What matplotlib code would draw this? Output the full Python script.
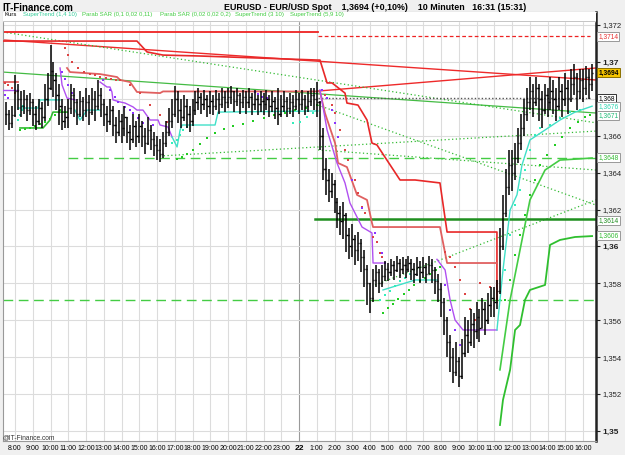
import matplotlib.pyplot as plt
import numpy as np

plt.rcParams['font.family'] = ['Liberation Sans', 'DejaVu Sans']

# ---- price bars (10 min), first bar at 7:30, time in hours after 8:00 ----
bar_start = -0.5
close = [
    1.3672, 1.3667, 1.3671,                                   # 7:30
    1.3684, 1.3680, 1.3676, 1.3680, 1.3674, 1.3678,           # 8:00
    1.3672, 1.3668, 1.3675, 1.3670, 1.3680, 1.3686,           # 9:00
    1.3695, 1.3690, 1.3682, 1.3676, 1.3668, 1.3670,           # 10:00
    1.3675, 1.3682, 1.3678, 1.3672, 1.3679, 1.3674,           # 11:00
    1.3678, 1.3673, 1.3680, 1.3676, 1.3682, 1.3677,           # 12:00
    1.3672, 1.3668, 1.3674, 1.3666, 1.3662, 1.3668,           # 13:00
    1.3664, 1.3670, 1.3662, 1.3658, 1.3665, 1.3660,           # 14:00
    1.3665, 1.3660, 1.3656, 1.3663, 1.3658, 1.3655,           # 15:00
    1.3652, 1.3650, 1.3656, 1.3662, 1.3668, 1.3672,           # 16:00
    1.3680, 1.3674, 1.3670, 1.3676, 1.3672, 1.3668,           # 17:00
    1.3674, 1.3678, 1.3681, 1.3677, 1.3680, 1.3676,           # 18:00
    1.3679, 1.3676, 1.3680, 1.3677, 1.3681, 1.3678,           # 19:00
    1.3681, 1.3684, 1.3679, 1.3682, 1.3678, 1.3681,           # 20:00
    1.3678, 1.3681, 1.3677, 1.3680, 1.3677, 1.3679,           # 21:00
    1.3677, 1.3680, 1.3676, 1.3679, 1.3675, 1.3672,           # 22:00
    1.3676, 1.3679, 1.3675, 1.3678, 1.3676, 1.3680,           # 23:00
    1.3677, 1.3680, 1.3676, 1.3679, 1.3682, 1.3680,           # 0:00
    1.3678, 1.3660, 1.3642, 1.3636, 1.3630, 1.3634,           # 1:00
    1.3624, 1.3618, 1.3614, 1.3617, 1.3606, 1.3600,           # 2:00
    1.3604, 1.3598, 1.3602, 1.3594, 1.3588, 1.3580,           # 3:00
    1.3572, 1.3582, 1.3586, 1.3580, 1.3584, 1.3588,           # 4:00
    1.3586, 1.3590, 1.3587, 1.3591, 1.3588, 1.3590,           # 5:00
    1.3588, 1.3591, 1.3588, 1.3585, 1.3589, 1.3586,           # 6:00
    1.3589, 1.3585, 1.3590, 1.3587, 1.3581, 1.3577,           # 7:00
    1.3570, 1.3560, 1.3548, 1.3540, 1.3532, 1.3538,           # 8:00
    1.3530, 1.3542, 1.3552, 1.3548, 1.3558, 1.3554,           # 9:00
    1.3562, 1.3556, 1.3566, 1.3560, 1.3568, 1.3572,           # 10:00
    1.3570, 1.3576, 1.3600, 1.3618, 1.3632, 1.3644,           # 11:00
    1.3640, 1.3648, 1.3656, 1.3664, 1.3672, 1.3678,           # 12:00
    1.3684, 1.3678, 1.3686, 1.3680, 1.3674, 1.3682,           # 13:00
    1.3678, 1.3684, 1.3680, 1.3676, 1.3684, 1.3680,           # 14:00
    1.3686, 1.3680, 1.3688, 1.3692, 1.3684, 1.3690,           # 15:00
    1.3686, 1.3692, 1.3688, 1.3694,                           # 16:00
]
high = [
    1.3678, 1.3674, 1.3676,
    1.3693, 1.3688, 1.3684, 1.3685, 1.3682, 1.3683,
    1.3680, 1.3676, 1.3680, 1.3678, 1.3688, 1.3694,
    1.3709, 1.3700, 1.3694, 1.3688, 1.3680, 1.3676,
    1.3680, 1.3688, 1.3686, 1.3680, 1.3684, 1.3681,
    1.3686, 1.3682, 1.3686, 1.3684, 1.3690, 1.3686,
    1.3680, 1.3676, 1.3680, 1.3676, 1.3670, 1.3674,
    1.3672, 1.3676, 1.3670, 1.3666, 1.3672, 1.3668,
    1.3672, 1.3668, 1.3664, 1.3670, 1.3666, 1.3662,
    1.3660, 1.3658, 1.3662, 1.3668, 1.3675, 1.3680,
    1.3687, 1.3684, 1.3680, 1.3682, 1.3680, 1.3676,
    1.3680, 1.3684, 1.3686, 1.3683, 1.3685, 1.3682,
    1.3684, 1.3682, 1.3685, 1.3683, 1.3686, 1.3684,
    1.3686, 1.3687, 1.3684, 1.3686, 1.3683, 1.3685,
    1.3684, 1.3686, 1.3683, 1.3685, 1.3682, 1.3684,
    1.3683, 1.3685, 1.3682, 1.3684, 1.3681, 1.3686,
    1.3682, 1.3684, 1.3681, 1.3683, 1.3682, 1.3685,
    1.3683, 1.3685, 1.3682, 1.3684, 1.3686, 1.3686,
    1.3689, 1.3679, 1.3664, 1.3648, 1.3642, 1.3640,
    1.3636, 1.3626, 1.3622, 1.3624, 1.3618, 1.3610,
    1.3612, 1.3606, 1.3608, 1.3604, 1.3598, 1.3590,
    1.3580, 1.3588, 1.3590, 1.3588, 1.3590, 1.3592,
    1.3591, 1.3593, 1.3592, 1.3595, 1.3593, 1.3594,
    1.3593, 1.3595, 1.3593, 1.3591, 1.3594, 1.3592,
    1.3594, 1.3591, 1.3595, 1.3593, 1.3589, 1.3585,
    1.3580, 1.3572, 1.3562, 1.3552, 1.3545, 1.3548,
    1.3540, 1.3550, 1.3562, 1.3560, 1.3566, 1.3564,
    1.3570, 1.3566, 1.3572, 1.3570, 1.3575, 1.3578,
    1.3578, 1.3582, 1.3610, 1.3628, 1.3642, 1.3652,
    1.3652, 1.3656, 1.3664, 1.3672, 1.3680, 1.3686,
    1.3692, 1.3688, 1.3692, 1.3688, 1.3684, 1.3688,
    1.3686, 1.3692, 1.3690, 1.3686, 1.3692, 1.3688,
    1.3694, 1.3690, 1.3696, 1.3699, 1.3694, 1.3696,
    1.3696, 1.3698, 1.3696, 1.3699,
]
low = [
    1.3666, 1.3663, 1.3664,
    1.3670, 1.3674, 1.3670, 1.3672, 1.3668, 1.3671,
    1.3665, 1.3663, 1.3666, 1.3664, 1.3668, 1.3676,
    1.3685, 1.3681, 1.3674, 1.3666, 1.3663, 1.3664,
    1.3664, 1.3672, 1.3670, 1.3666, 1.3670, 1.3668,
    1.3670, 1.3666, 1.3671, 1.3668, 1.3674, 1.3670,
    1.3665, 1.3662, 1.3666, 1.3660, 1.3656, 1.3660,
    1.3656, 1.3660, 1.3656, 1.3652, 1.3656, 1.3654,
    1.3656, 1.3654, 1.3650, 1.3655, 1.3652, 1.3649,
    1.3647, 1.3646, 1.3648, 1.3654, 1.3660, 1.3664,
    1.3670, 1.3667, 1.3664, 1.3668, 1.3664, 1.3662,
    1.3665, 1.3671, 1.3674, 1.3672, 1.3674, 1.3670,
    1.3672, 1.3671, 1.3674, 1.3672, 1.3675, 1.3673,
    1.3675, 1.3677, 1.3673, 1.3676, 1.3672, 1.3675,
    1.3672, 1.3675, 1.3671, 1.3674, 1.3671, 1.3673,
    1.3671, 1.3674, 1.3670, 1.3673, 1.3669, 1.3666,
    1.3670, 1.3673, 1.3670, 1.3672, 1.3670, 1.3674,
    1.3672, 1.3674, 1.3671, 1.3673, 1.3676, 1.3674,
    1.3670, 1.3652, 1.3636, 1.3628, 1.3624, 1.3626,
    1.3618, 1.3610, 1.3606, 1.3604, 1.3597, 1.3593,
    1.3594, 1.3590, 1.3592, 1.3586, 1.3578, 1.3568,
    1.3564, 1.3570, 1.3578, 1.3575, 1.3578, 1.3581,
    1.3581, 1.3584, 1.3582, 1.3586, 1.3583, 1.3585,
    1.3583, 1.3586, 1.3582, 1.3580, 1.3584, 1.3580,
    1.3583, 1.3580, 1.3585, 1.3580, 1.3574, 1.3570,
    1.3562, 1.3552, 1.3540, 1.3532, 1.3526, 1.3530,
    1.3524, 1.3528, 1.3540, 1.3542, 1.3546, 1.3545,
    1.3550, 1.3548, 1.3556, 1.3552, 1.3558, 1.3562,
    1.3562, 1.3566, 1.3574, 1.3598, 1.3616, 1.3628,
    1.3630, 1.3636, 1.3645, 1.3652, 1.3660, 1.3668,
    1.3674, 1.3670, 1.3676, 1.3668, 1.3664, 1.3672,
    1.3670, 1.3674, 1.3672, 1.3668, 1.3674, 1.3670,
    1.3676, 1.3672, 1.3678, 1.3682, 1.3674, 1.3680,
    1.3678, 1.3682, 1.3680, 1.3684,
]

# ---- SuperTrend (5,9 10): vertices (hour, price) ----
st59_dn_t = [-0.68, 6.87, 7.44, 8.34, 10.42, 17.07, 17.18, 17.58, 17.86, 18.59, 18.70, 19.32, 19.83,
             20.11, 20.39, 21.69, 22.54, 23.94, 24.34, 27.15, 27.15]
st59_dn_p = [1.37113, 1.37113, 1.37054, 1.37037, 1.37032, 1.3701, 1.3701, 1.36886, 1.36886, 1.36831,
             1.36777, 1.36766, 1.36685, 1.3656, 1.3655, 1.3636, 1.3636, 1.36344, 1.36078, 1.36078, 1.3571]
st59_up_t = [27.32, 27.49, 27.89, 28.17, 28.45, 28.73, 29.01, 29.86, 30.14, 30.70, 31.55, 32.51]
st59_up_p = [1.35032, 1.35168, 1.35331, 1.35547, 1.35574, 1.3571, 1.35764, 1.35791, 1.36008, 1.36035,
             1.36051, 1.36056]

# ---- SuperTrend (3 10) ----
st3_dn1_t = [-0.68, 0.17]
st3_dn1_p = [1.36891, 1.36891]
st3_up1_t = [0.28, 1.58, 1.97, 2.14, 2.93]
st3_up1_p = [1.36642, 1.36642, 1.36685, 1.36728, 1.36728]
st3_dn2_t = [2.93, 3.10, 4.79, 5.75, 5.92, 6.48, 6.87, 8.17, 8.34, 17.18, 17.46, 18.03, 18.20, 18.70,
             19.27, 19.83, 20.11, 20.17, 23.94, 24.34, 27.15]
st3_dn2_p = [1.36967, 1.36945, 1.36934, 1.36918, 1.36902, 1.36891, 1.36837, 1.36831, 1.3684, 1.3684,
             1.36723, 1.3656, 1.36452, 1.3643, 1.36279, 1.36252, 1.36127, 1.36105, 1.36105, 1.3591, 1.3591]
st3_up2_t = [27.32, 27.89, 28.45, 29.01, 29.86, 30.70, 32.51]
st3_up2_p = [1.35331, 1.3571, 1.35981, 1.36252, 1.36414, 1.36468, 1.36479]

# ---- SuperTrend (1,4 10) ----
st14_dn = [
    ([-0.68, 0.17], [1.36848, 1.36848]),
    ([2.54, 2.65, 2.93, 3.38], [1.36967, 1.36875, 1.36804, 1.36794]),
    ([4.79, 5.18, 5.35, 5.46, 5.52, 5.92, 6.20, 6.65, 6.87, 7.21, 7.61, 8.06, 8.17, 8.62, 8.85],
     [1.36891, 1.36864, 1.36864, 1.36837, 1.36794, 1.36783, 1.36777, 1.36756, 1.36739, 1.36739,
      1.36685, 1.36685, 1.36658, 1.36647, 1.36593]),
    ([17.18, 17.58, 18.14, 18.59, 18.87, 19.55, 20.11, 20.17, 20.73],
     [1.36848, 1.36631, 1.36452, 1.36344, 1.36235, 1.36105, 1.36073, 1.3591, 1.3591]),
    ([23.77, 24.23, 24.51, 24.79, 25.24, 27.15], [1.3593, 1.35872, 1.3571, 1.35601, 1.35547, 1.35547]),
]
st14_up = [
    ([0.17, 1.30, 1.41, 2.54], [1.3675, 1.3675, 1.36794, 1.36794]),
    ([3.38, 3.66, 4.06, 4.79], [1.36739, 1.36685, 1.36739, 1.36739]),
    ([8.85, 9.13, 9.30, 9.41, 11.27, 11.44, 17.07], [1.36593, 1.36539, 1.3663, 1.36658, 1.36658, 1.36728, 1.36734]),
    ([20.73, 22.54, 23.77], [1.35764, 1.35818, 1.35818]),
    ([27.15, 27.49, 27.89, 28.28, 28.56, 29.01, 29.86, 30.70, 31.55, 32.51],
     [1.35547, 1.35872, 1.36197, 1.3628, 1.36441, 1.36577, 1.36631, 1.36685, 1.36728, 1.3676]),
]

# ---- Parab SAR (0,02 0,02 0,2) ----
sar2_dn_t = [-0.56, -0.39, -0.17, 0.0,
             2.82, 2.99, 3.21, 3.55, 3.88, 4.2, 4.5, 4.8, 5.1, 5.4, 5.7, 5.92, 6.48, 7.04, 7.61, 8.17, 8.56,
             17.46, 17.86, 18.03, 18.31, 18.59, 18.76, 19.15, 19.32, 19.55, 19.72, 20.17, 20.39, 20.56, 20.68,
             24.23, 24.51, 24.79, 25.07, 25.35, 25.63, 25.9, 26.2, 26.76, 27.15]
sar2_dn_p = [1.36886, 1.36875, 1.36859, 1.36831,
             1.37075, 1.37037, 1.36999, 1.36967, 1.36945, 1.36935, 1.36927, 1.3692, 1.36913, 1.36908,
             1.36904, 1.36902, 1.36875, 1.36831, 1.36766, 1.36712, 1.36674,
             1.36821, 1.36766, 1.36723, 1.36631, 1.36523, 1.36468, 1.3636, 1.3629, 1.36214, 1.36181,
             1.36051, 1.36024, 1.35964, 1.35943,
             1.3597, 1.3594, 1.3589, 1.3582, 1.3574, 1.3566, 1.3560, 1.3580, 1.3578, 1.3577]
sar2_up_t = [0.28, 0.56, 0.85, 1.13, 1.41, 1.69, 1.97, 2.25, 2.54,
             9.13, 9.41, 9.69, 10.0, 10.42, 10.82, 11.27, 11.8, 12.3, 12.85, 13.4, 14.0, 14.6, 15.2, 15.8,
             16.4, 17.0,
             20.73, 21.0, 21.3, 21.6, 21.9, 22.2, 22.5, 22.8, 23.1, 23.4, 23.7, 23.94,
             27.61, 27.89, 28.17, 28.45, 28.73, 29.01, 29.30, 29.58, 29.97, 30.42, 30.82, 31.27, 31.72,
             32.11, 32.39]
sar2_up_p = [1.36631, 1.36636, 1.36642, 1.36653, 1.36663, 1.36674, 1.3669, 1.36712, 1.3674,
             1.36474, 1.36485, 1.3650, 1.3652, 1.36555, 1.3659, 1.36615, 1.36635, 1.3665, 1.36665,
             1.3668, 1.36695, 1.3671, 1.36725, 1.3674, 1.36752, 1.36766,
             1.3564, 1.35665, 1.3569, 1.35715, 1.3574, 1.35765, 1.3579, 1.3581, 1.3583, 1.3585, 1.3587,
             1.3589,
             1.3571, 1.35818, 1.35953, 1.36062, 1.3617, 1.36279, 1.3636, 1.36441, 1.36495, 1.3655,
             1.36593, 1.36642, 1.36674, 1.36701, 1.36712]

# ---- Parab SAR (0,1 0,02 0,11) ----
sar1_dn_t = [-0.56, -0.39, 2.65, 2.82, 2.99, 3.21,
             4.96, 5.35, 5.63, 5.80, 6.20, 6.48, 6.65, 6.93, 7.21, 7.77,
             13.52, 13.7, 13.92, 14.2,
             17.30, 17.58, 17.86, 18.03, 18.20, 18.99, 19.55, 20.28, 20.68, 20.85,
             24.23, 24.51, 24.79, 25.07]
sar1_dn_p = [1.36821, 1.36804, 1.36945, 1.3691, 1.36875, 1.3683,
             1.36902, 1.36848, 1.3681, 1.36783, 1.36756, 1.36739, 1.36723, 1.36696, 1.36669, 1.36658,
             1.36837, 1.36826, 1.3681, 1.36804,
             1.36848, 1.36804, 1.36739, 1.36669, 1.36593, 1.3636, 1.36208, 1.36073, 1.35964, 1.3591,
             1.35791, 1.35656, 1.35547, 1.35466]
sar1_up_t = [0.17, 0.28, 0.39, 0.45,
             8.85, 9.13, 9.30, 9.46, 9.69,
             15.66, 16.06, 16.45, 16.79,
             20.56, 20.85, 21.13, 21.41, 21.69, 21.97, 22.25,
             27.32, 27.61, 27.89, 28.17, 28.45, 28.73, 29.01, 29.30, 29.58, 30.14, 30.70, 31.27, 31.83]
sar1_up_p = [1.36685, 1.36712, 1.3674, 1.3676,
             1.3656, 1.36577, 1.36604, 1.36631, 1.36647,
             1.36669, 1.36674, 1.36701, 1.36723,
             1.3571, 1.35736, 1.3576, 1.35785, 1.3581, 1.3583, 1.3585,
             1.3571, 1.35872, 1.36062, 1.36224, 1.36306, 1.36414, 1.36523, 1.36604, 1.36642, 1.36658,
             1.36696, 1.36728, 1.36739]

# ---- drawn lines: (t0, t1, p0, p1) ----
red_trend_down = (-0.68, 32.73, 1.37119, 1.36902)
red_trend_up = (17.07, 32.73, 1.36842, 1.36967)
green_trend = (-0.68, 32.73, 1.36945, 1.36723)
green_dotted = [(-0.68, 32.73, 1.37162, 1.3667),
                (17.07, 32.73, 1.36766, 1.36224),
                (8.17, 32.73, 1.3649, 1.36625),
                (17.07, 32.73, 1.36523, 1.36414),
                (20.28, 32.73, 1.35791, 1.36252)]
green_dashed = [(2.99, 32.73, 1.36479), (-0.68, 32.73, 1.3571)]
red_high_line = (-0.68, 17.07, 1.37162)
red_dashed_line = (17.07, 32.39, 1.3714)
gray_dotted_line = (17.07, 32.39, 1.36804)
dark_green_line = (16.90, 32.73, 1.36149)

# right-side value boxes: (text, price, text colour, face colour, edge colour, bold)
value_boxes = [
    ('1,3714', 1.3714, '#e83030', 'white', '#999999', False),
    ('1,3694', 1.3694, 'black', '#f5c400', '#8a7000', True),
    ('1,368', 1.368, 'black', 'white', '#333333', False),
    ('1,3676', 1.3676, '#2ed6b0', 'white', '#999999', False),
    ('1,3671', 1.3671, '#22bb77', 'white', '#999999', False),
    ('1,3648', 1.3648, '#33bb33', 'white', '#999999', False),
    ('1,3614', 1.3614, '#1f8f1f', 'white', '#999999', False),
    ('1,3606', 1.3606, '#33bb33', 'white', '#999999', False),
]

legend_items = [('Kurs', 'black'), ('SuperTrend (1,4 10)', '#33cc99'),
                ('Parab SAR (0,1 0,02 0,11)', '#44cc44'), ('Parab SAR (0,02 0,02 0,2)', '#44cc44'),
                ('SuperTrend (3 10)', '#44cc44'), ('SuperTrend (5,9 10)', '#44cc44')]
legend_x = [0.003, 0.034, 0.133, 0.265, 0.391, 0.484]
hour_ticks = list(range(0, 33))

# ---- figure ----
W, H = 625, 455
fig = plt.figure(figsize=(W / 100, H / 100), dpi=100, facecolor='#f0f0f0')
ax = fig.add_axes([3 / W, 14 / H, 593 / W, 429 / H])
ax.set_facecolor('white')
ax.set_xlim(-0.676, 32.73)
ax.set_ylim(1.349453, 1.372705)

# grid
for h in hour_ticks:
    ax.axvline(h, color='#9a9a9a' if h == 16 else '#dcdcdc', lw=0.8, zorder=0)
yt = np.round(np.arange(1.350, 1.3721, 0.002), 3)
for v in yt:
    ax.axhline(v, color='#dcdcdc', lw=0.8, zorder=0)

# horizontal / trend lines
ax.plot(red_trend_down[:2], red_trend_down[2:], color='#ee2a2a', lw=1.0, zorder=2)
ax.plot(red_trend_up[:2], red_trend_up[2:], color='#ee2a2a', lw=1.0, zorder=2)
ax.plot(green_trend[:2], green_trend[2:], color='#44bb44', lw=0.9, zorder=2)
for t0, t1, p0, p1 in green_dotted:
    ax.plot([t0, t1], [p0, p1], color='#33bb33', lw=0.9, ls=(0, (1, 2)), zorder=2)
for t0, t1, p in green_dashed:
    ax.plot([t0, t1], [p, p], color='#44cc44', lw=1.0, ls=(0, (7, 4)), zorder=2)
ax.plot(red_high_line[:2], [red_high_line[2]] * 2, color='#ee2222', lw=1.3, zorder=2)
ax.plot(red_dashed_line[:2], [red_dashed_line[2]] * 2, color='#ee2222', lw=0.9, ls=(0, (3, 2)), zorder=2)
ax.plot(gray_dotted_line[:2], [gray_dotted_line[2]] * 2, color='#555555', lw=1.0, ls=(0, (1, 1.5)), zorder=2)
ax.plot(dark_green_line[:2], [dark_green_line[2]] * 2, color='#1f8f1f', lw=1.8, zorder=2)

# SuperTrend lines
ax.plot(st59_dn_t, st59_dn_p, color='#e82828', lw=1.2, zorder=3)
ax.plot(st59_up_t, st59_up_p, color='#2fbf2f', lw=1.3, zorder=3)
ax.plot(st3_dn1_t, st3_dn1_p, color='#e06060', lw=1.3, zorder=3)
ax.plot(st3_dn2_t, st3_dn2_p, color='#e06060', lw=1.3, zorder=3)
ax.plot(st3_up1_t, st3_up1_p, color='#33bb33', lw=1.2, zorder=3)
ax.plot(st3_up2_t, st3_up2_p, color='#44cc44', lw=1.2, zorder=3)
for t, p in st14_dn:
    ax.plot(t, p, color='#b050f0', lw=1.0, zorder=3)
for t, p in st14_up:
    ax.plot(t, p, color='#40e0c8', lw=1.0, zorder=3)

# Parabolic SAR dots
ax.plot(sar2_dn_t, sar2_dn_p, 's', color='#dd4444', ms=2.0, mew=0, zorder=4)
ax.plot(sar2_up_t, sar2_up_p, 's', color='#22cc22', ms=2.0, mew=0, zorder=4)
ax.plot(sar1_dn_t, sar1_dn_p, 's', color='#8a33ff', ms=2.0, mew=0, zorder=4)
ax.plot(sar1_up_t, sar1_up_p, 's', color='#33eebb', ms=2.0, mew=0, zorder=4)

# OHLC bars
bt = bar_start + np.arange(len(close)) / 6.0
opens = [close[0]] + close[:-1]
tick = 0.07
ax.vlines(bt, low, high, color='black', lw=1.1, zorder=5)
ax.hlines(opens, bt - tick, bt, color='black', lw=1.0, zorder=5)
ax.hlines(close, bt, bt + tick, color='black', lw=1.0, zorder=5)

# axes styling
for side in ['left', 'top', 'bottom']:
    ax.spines[side].set_color('#999999')
    ax.spines[side].set_linewidth(0.8)
ax.spines['right'].set_color('#222222')
ax.spines['right'].set_linewidth(1.8)

ax.yaxis.tick_right()
ax.set_yticks(yt)
# 1,368 is shown in its own box, so its plain label stays empty
ax.set_yticklabels(['' if v == 1.368 else f'{v:.3f}'.replace('.', ',').rstrip('0') for v in yt],
                   fontsize=5.5)
for lab, v in zip(ax.get_yticklabels(), yt):
    if abs(v * 100 - round(v * 100)) < 1e-6:
        lab.set_fontweight('bold')
        lab.set_fontsize(6)
ax.tick_params(axis='y', length=3, width=0.8, pad=1.5, colors='#222222')

ax.set_xticks(hour_ticks)
ax.set_xticklabels(['22' if h == 16 else f'{(8 + h) % 24}:00' for h in hour_ticks], fontsize=5)
for lab, h in zip(ax.get_xticklabels(), hour_ticks):
    if h == 16:
        lab.set_fontweight('bold')
        lab.set_fontsize(6)
ax.tick_params(axis='x', length=0, pad=3)

# value boxes on the price scale
for txt, p, tc, fc, ec, bold in value_boxes:
    ax.annotate(txt, xy=(1.004, p), xycoords=('axes fraction', 'data'), ha='left', va='center',
                fontsize=4.8, color=tc, fontweight='bold' if bold else 'normal',
                bbox=dict(boxstyle='square,pad=0.15', fc=fc, ec=ec, lw=0.7), zorder=10,
                annotation_clip=False)

# legend strip
ax.axhspan(1.3722, 1.372705, color='white', zorder=6)
ax.axhline(1.3722, color='#bbbbbb', lw=0.6, zorder=6)
for (txt, col), xl in zip(legend_items, legend_x):
    ax.text(xl, 0.9935, txt, transform=ax.transAxes, fontsize=4.3, color=col, va='center', zorder=7)

# header and watermark
fig.text(2 / W, 1 - 8 / H, 'IT-Finance.com', fontsize=7, fontweight='bold', va='center', ha='left')
fig.text(224 / W, 1 - 8 / H, 'EURUSD - EUR/USD Spot    1,3694 (+0,10%)    10 Minuten   16:31 (15:31)',
         fontsize=6.4, fontweight='bold', va='center', ha='left')
fig.text(3 / W, 1 - 438 / H, '@IT-Finance.com', fontsize=4.8, va='center', ha='left', color='#333333')

fig.savefig('out.png', dpi=100, facecolor=fig.get_facecolor())
